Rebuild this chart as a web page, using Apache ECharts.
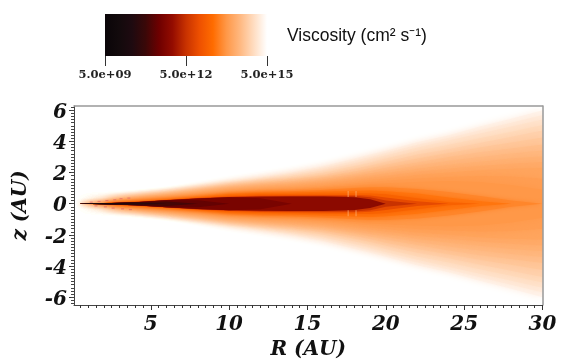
<!DOCTYPE html>
<html>
<head>
<meta charset="utf-8">
<script src="https://cdn.jsdelivr.net/npm/echarts@6/dist/echarts.min.js"></script>
<style>
html, body { margin: 0; padding: 0; background: #fff; }
#main { width: 574px; height: 359px; }
</style>
</head>
<body>
<div id="main"></div>
<script>
var radii = [0.5, 2, 4, 6, 8, 10, 12, 14, 16, 18, 19, 20, 22, 24, 26, 28, 30];

// exponent of viscosity / 5, outermost contour first
var levels = [14.85, 14.72, 14.6, 14.48, 14.35, 14.22, 14.1, 14, 13.9, 13.8, 13.7, 13.6, 13.5, 13.3, 13.1, 12.8, 12.4, 12, 11.4, 11.15, 10.9, 10.6, 10.2, 9.6];

// half height (AU) of each contour at every R station, 0 = contour not there
var halfHeights = [
    [0, .03, .28, .55, .95, 1.35, 1.65, 2.00, 2.40, 2.90, 3.15, 3.40, 3.95, 4.40, 4.95, 5.45, 6.00],
    [0, .03, .26, .52, .90, 1.27, 1.57, 1.90, 2.27, 2.75, 3.00, 3.25, 3.78, 4.22, 4.72, 5.20, 5.70],
    [0, .03, .25, .50, .86, 1.20, 1.50, 1.80, 2.15, 2.60, 2.85, 3.10, 3.60, 4.05, 4.50, 4.95, 5.40],
    [0, .03, .24, .48, .82, 1.12, 1.40, 1.67, 2.00, 2.42, 2.65, 2.90, 3.38, 3.78, 4.20, 4.62, 5.05],
    [0, .03, .23, .46, .78, 1.05, 1.30, 1.55, 1.85, 2.25, 2.45, 2.70, 3.15, 3.50, 3.90, 4.30, 4.70],
    [0, .03, .22, .44, .72, .98, 1.21, 1.43, 1.70, 2.07, 2.27, 2.50, 2.90, 3.25, 3.60, 3.92, 4.25],
    [0, .03, .21, .42, .66, .92, 1.12, 1.32, 1.55, 1.90, 2.10, 2.30, 2.65, 3.00, 3.30, 3.55, 3.80],
    [0, .03, .20, .40, .63, .87, 1.06, 1.23, 1.45, 1.77, 1.95, 2.12, 2.45, 2.75, 3.00, 3.22, 3.42],
    [0, .03, .19, .38, .60, .83, 1.00, 1.15, 1.35, 1.65, 1.80, 1.95, 2.25, 2.50, 2.70, 2.90, 3.05],
    [0, .03, .18, .36, .57, .79, .95, 1.08, 1.26, 1.52, 1.66, 1.78, 2.05, 2.25, 2.42, 2.57, 2.68],
    [0, .03, .17, .35, .54, .76, .90, 1.02, 1.17, 1.40, 1.52, 1.62, 1.85, 2.00, 2.15, 2.25, 2.30],
    [0, .03, .17, .34, .52, .74, .86, .96, 1.10, 1.29, 1.39, 1.47, 1.62, 1.72, 1.78, 1.75, 1.60],
    [0, .03, .16, .32, .50, .72, .83, .90, 1.02, 1.18, 1.27, 1.32, 1.40, 1.45, 1.40, 1.20, .90],
    [.012, .05, .15, .29, .46, .66, .75, .80, .88, 1.00, 1.05, 1.05, .95, .75, .50, .20, 0],
    [.01, .045, .14, .27, .42, .60, .68, .70, .76, .82, .85, .80, .65, .40, .15, 0, 0],
    [.01, .04, .13, .25, .39, .53, .60, .62, .64, .66, .66, .60, .35, .10, 0, 0, 0],
    [.01, .04, .12, .24, .37, .46, .53, .55, .56, .56, .52, .40, .15, 0, 0, 0, 0],
    [.01, .035, .11, .23, .35, .43, .49, .50, .50, .50, .42, .20, 0, 0, 0, 0, 0],
    [.01, .03, .10, .22, .34, .42, .45, .46, .46, .41, .28, 0, 0, 0, 0, 0, 0],
    [.01, .03, .10, .22, .34, .42, .35, 0, 0, 0, 0, 0, 0, 0, 0, 0, 0],
    [.01, .03, .10, .22, .22, 0, 0, 0, 0, 0, 0, 0, 0, 0, 0, 0, 0],
    [.01, .03, .10, .14, 0, 0, 0, 0, 0, 0, 0, 0, 0, 0, 0, 0, 0],
    [.01, .03, .07, 0, 0, 0, 0, 0, 0, 0, 0, 0, 0, 0, 0, 0, 0],
    [.01, .03, 0, 0, 0, 0, 0, 0, 0, 0, 0, 0, 0, 0, 0, 0, 0]
];

// stray red cells close to the star, above and below the disc
var specks = [[1.2, .1], [1.7, .15], [2.2, .2], [2.7, .25], [3.1, .32], [3.6, .36], [1.5, -.14], [2.1, -.2], [2.6, -.28], [3.2, -.33], [3.7, -.38]];

// pale streaks just outside the dark body
var streaks = [[17.6, .62], [18.1, .62], [17.6, -.62], [18.1, -.62]];

var colorStops = ['#0a0508', '#120a0c', '#1e0a10', '#3a0808', '#6e0000', '#940c00', '#c83200', '#ee5000',
    '#ff6c00', '#ff9848', '#ffb880', '#ffdcc0', '#ffffff'];

var barTicks = [9, 12, 15];
var barTickLabels = ['5.0e+09', '5.0e+12', '5.0e+15'];
var rTicks = [5, 10, 15, 20, 25, 30];
var zTicks = [-6, -4, -2, 0, 2, 4, 6];

var rMinor = [];
for (var i = 1; i <= 60; i++) rMinor.push(i / 2);
var zMinor = [];
for (var j = -32; j <= 31; j++) zMinor.push(j / 5);

var serifBold = {
    fontFamily: 'DejaVu Serif',
    fontWeight: 'bold',
    fontStyle: 'italic',
    fontSize: 20,
    color: '#111'
};

function renderContour(params, api) {
    var idx = api.value(1);
    var heights = halfHeights[idx];
    var top = [], bottom = [];
    for (var k = 0; k < radii.length; k++) {
        // a zero next to a real height is the tip of the contour
        if (heights[k] <= 0 && !(heights[k - 1] > 0) && !(heights[k + 1] > 0)) continue;
        top.push(api.coord([radii[k], heights[k]]));
        bottom.unshift(api.coord([radii[k], -heights[k]]));
    }
    var soft = levels[idx] > 13.4 ? 10 : (levels[idx] > 12.5 ? 4 : 0);
    return {
        type: 'polygon',
        shape: { points: top.concat(bottom) },
        style: {
            fill: api.visual('color'),
            shadowBlur: soft,
            shadowColor: api.visual('color')
        }
    };
}

// colour bar, a gradient rectangle placed through its own axes
function renderBar(params, api) {
    var a = api.coord([barTicks[0], 1]);
    var b = api.coord([barTicks[2], 0]);
    var stops = colorStops.map(function(c, n) {
        return { offset: n / (colorStops.length - 1), color: c };
    });
    return {
        type: 'rect',
        shape: { x: a[0], y: a[1], width: b[0] - a[0], height: b[1] - a[1] },
        style: { fill: new echarts.graphic.LinearGradient(0, 0, 1, 0, stops) }
    };
}

var noLine = { show: false };

var chart = echarts.init(document.getElementById('main'));
chart.setOption({
    animation: false,
    backgroundColor: '#fff',
    title: {
        text: 'Viscosity (cm² s⁻¹)',
        left: 287,
        top: 27,
        padding: 0,
        textStyle: { fontFamily: 'Liberation Sans', fontWeight: 'normal', fontSize: 17.5, color: '#111' }
    },
    visualMap: {
        type: 'continuous',
        show: false,
        seriesIndex: 0,
        dimension: 0,
        min: 9,
        max: 15,
        inRange: { color: colorStops }
    },
    grid: [
        { left: 74, top: 106, width: 468.5, height: 199, outerBoundsMode: 'none' },
        { left: 105, top: 14, width: 162, height: 42, outerBoundsMode: 'none' },
        // same box as the plot, only carries the short ticks
        { left: 74, top: 106, width: 468.5, height: 199, outerBoundsMode: 'none' }
    ],
    xAxis: [
        {
            type: 'value', gridIndex: 0, min: 0.1, max: 30, position: 'bottom', z: 5,
            axisLine: { onZero: false, lineStyle: { color: '#444' } },
            axisTick: { length: 5, customValues: rTicks, lineStyle: { color: '#333' } },
            axisLabel: Object.assign({ customValues: rTicks, margin: 10, showMinLabel: true, showMaxLabel: true }, serifBold),
            splitLine: noLine,
            name: 'R (AU)',
            nameLocation: 'middle',
            nameGap: 33,
            nameTextStyle: serifBold
        },
        {
            type: 'value', gridIndex: 0, min: 0.1, max: 30, position: 'top', z: 5,
            axisLine: { onZero: false, lineStyle: { color: '#999', width: 1.5 } },
            axisTick: { show: false },
            axisLabel: { show: false },
            splitLine: noLine
        },
        {
            type: 'value', gridIndex: 1, min: 9, max: 15, interval: 3, position: 'bottom',
            axisLine: { show: false, onZero: false },
            axisTick: { length: 10, lineStyle: { color: '#333' } },
            axisLabel: {
                margin: 13.5,
                fontFamily: 'DejaVu Serif',
                fontWeight: 'bold',
                fontSize: 11.5,
                color: '#222',
                formatter: function(v) { return barTickLabels[barTicks.indexOf(v)]; }
            },
            splitLine: noLine
        },
        {
            type: 'value', gridIndex: 2, min: 0.1, max: 30, position: 'bottom', z: 5,
            axisLine: { show: false, onZero: false },
            axisTick: { length: 3, customValues: rMinor, lineStyle: { color: '#333' } },
            axisLabel: { show: false },
            splitLine: noLine
        }
    ],
    yAxis: [
        {
            type: 'value', gridIndex: 0, min: -6.5, max: 6.27, position: 'left', z: 5,
            axisLine: { onZero: false, lineStyle: { color: '#444' } },
            axisTick: { length: 5, customValues: zTicks, lineStyle: { color: '#333' } },
            axisLabel: {
                customValues: zTicks,
                margin: 7,
                formatter: function(v) { return '{t|' + v + '}'; },
                rich: { t: Object.assign({ padding: [5, 0, 0, 0] }, serifBold) }
            },
            splitLine: noLine,
            name: 'z (AU)',
            nameLocation: 'middle',
            nameGap: 43,
            nameTextStyle: serifBold
        },
        {
            type: 'value', gridIndex: 0, min: -6.5, max: 6.27, position: 'right', z: 5,
            axisLine: { onZero: false, lineStyle: { color: '#999', width: 1.5 } },
            axisTick: { show: false },
            axisLabel: { show: false },
            splitLine: noLine
        },
        {
            type: 'value', gridIndex: 1, min: 0, max: 1,
            axisLine: { show: false, onZero: false },
            axisTick: { show: false },
            axisLabel: { show: false },
            splitLine: noLine
        },
        {
            type: 'value', gridIndex: 2, min: -6.5, max: 6.27, position: 'left', z: 5,
            axisLine: { show: false, onZero: false },
            axisTick: { length: 3, customValues: zMinor, lineStyle: { color: '#444' } },
            axisLabel: { show: false },
            splitLine: noLine
        }
    ],
    series: [
        {
            type: 'custom',
            coordinateSystem: 'cartesian2d',
            xAxisIndex: 0,
            yAxisIndex: 0,
            clip: true,
            silent: true,
            renderItem: renderContour,
            data: levels.map(function(u, idx) { return [u, idx]; })
        },
        {
            type: 'scatter',
            xAxisIndex: 0,
            yAxisIndex: 0,
            symbol: 'rect',
            symbolSize: [3, 1],
            silent: true,
            itemStyle: { color: '#e0606a', opacity: 0.7 },
            data: specks
        },
        {
            type: 'custom',
            coordinateSystem: 'cartesian2d',
            xAxisIndex: 2,
            yAxisIndex: 2,
            silent: true,
            renderItem: renderBar,
            data: [[barTicks[0], 0]]
        },
        {
            type: 'scatter',
            xAxisIndex: 0,
            yAxisIndex: 0,
            symbol: 'rect',
            symbolSize: [1.5, 6],
            silent: true,
            itemStyle: { color: '#ffb070', opacity: 0.5 },
            data: streaks
        }
    ]
});
</script>
</body>
</html>
